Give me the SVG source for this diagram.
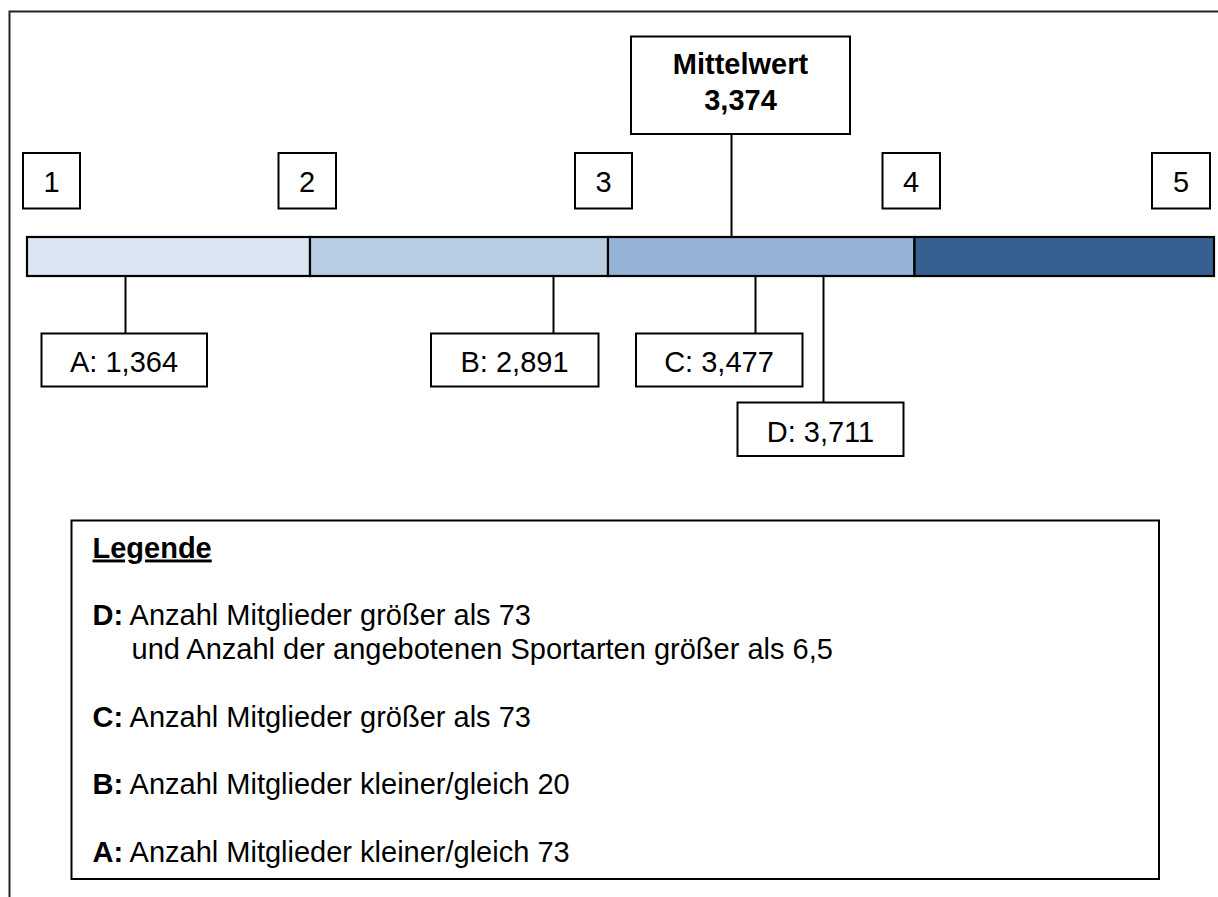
<svg xmlns="http://www.w3.org/2000/svg" width="1218" height="897" viewBox="0 0 1218 897">
<style>
.box{fill:#fff;stroke:#000;stroke-width:2}
.seg{stroke:#000;stroke-width:2.2}
.ln{stroke:#000;stroke-width:2;fill:none}
.t{font-family:"Liberation Sans",Arial,sans-serif;font-size:29px;fill:#000}
.c{text-anchor:middle}
.b{font-weight:bold}
</style>
<rect width="1218" height="897" fill="#fff"/>
<path d="M9.5,897 V11.5 H1218" fill="none" stroke="#222" stroke-width="2"/>
<g id="connectors">
<line class="ln" x1="731.5" y1="134" x2="731.5" y2="237"/>
<line class="ln" x1="125.5" y1="276" x2="125.5" y2="333"/>
<line class="ln" x1="553.5" y1="276" x2="553.5" y2="333"/>
<line class="ln" x1="755.5" y1="276" x2="755.5" y2="333"/>
<line class="ln" x1="823.5" y1="276" x2="823.5" y2="402"/>
</g>
<g id="bar">
<rect class="seg" x="27" y="237" width="283" height="39" fill="#DBE5F1"/>
<rect class="seg" x="310" y="237" width="298" height="39" fill="#B8CCE4"/>
<rect class="seg" x="608" y="237" width="306.5" height="39" fill="#95B3D7"/>
<rect class="seg" x="914.5" y="237" width="299.5" height="39" fill="#366092"/>
</g>
<g id="n1"><rect class="box" x="23" y="153" width="57" height="55.5"/><text class="t c" x="51.5" y="191.5">1</text></g>
<g id="n2"><rect class="box" x="278.5" y="153" width="57.5" height="55.5"/><text class="t c" x="307" y="191.5">2</text></g>
<g id="n3"><rect class="box" x="575" y="153" width="57" height="55.5"/><text class="t c" x="603.5" y="191.5">3</text></g>
<g id="n4"><rect class="box" x="882.5" y="153" width="57.5" height="55.5"/><text class="t c" x="911" y="191.5">4</text></g>
<g id="n5"><rect class="box" x="1152" y="153" width="58" height="55.5"/><text class="t c" x="1181" y="191.5">5</text></g>
<g id="mittelwert"><rect class="box" x="631" y="36.5" width="219" height="97.5"/>
<text class="t c b" x="740.5" y="74">Mittelwert</text>
<text class="t c b" x="740.5" y="110">3,374</text></g>
<g id="A"><rect class="box" x="41.5" y="333.5" width="165.5" height="53"/><text class="t c" x="124" y="371.5">A: 1,364</text></g>
<g id="B"><rect class="box" x="431" y="333.5" width="167.5" height="53"/><text class="t c" x="514.5" y="371.5">B: 2,891</text></g>
<g id="C"><rect class="box" x="636" y="333.5" width="166.5" height="53"/><text class="t c" x="719" y="371.5">C: 3,477</text></g>
<g id="D"><rect class="box" x="737.5" y="402.5" width="166" height="53.5"/><text class="t c" x="820.5" y="441.5">D: 3,711</text></g>
<g id="legend">
<rect class="box" x="71.5" y="520.5" width="1087.5" height="358.5"/>
<text class="t b" x="92.5" y="557.5" text-decoration="underline" font-size="28">Legende</text>
<text class="t" x="92.5" y="625"><tspan class="b">D:</tspan> Anzahl Mitglieder größer als 73</text>
<text class="t" x="131.5" y="658.5">und Anzahl der angebotenen Sportarten größer als 6,5</text>
<text class="t" x="92.5" y="726.5"><tspan class="b">C:</tspan> Anzahl Mitglieder größer als 73</text>
<text class="t" x="92.5" y="793.5"><tspan class="b">B:</tspan> Anzahl Mitglieder kleiner/gleich 20</text>
<text class="t" x="92.5" y="861.5"><tspan class="b">A:</tspan> Anzahl Mitglieder kleiner/gleich 73</text>
</g>
</svg>
